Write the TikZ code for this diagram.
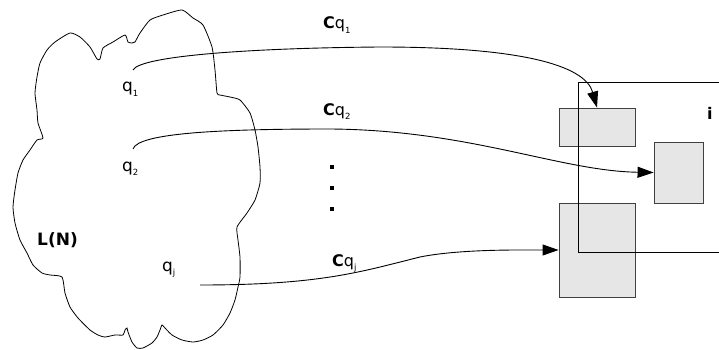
\documentclass[tikz,border=0pt]{standalone}
\usepackage{fontspec}
\setmainfont{DejaVu Sans}
\usepackage{tikz}
\usetikzlibrary{positioning,arrows.meta}
\definecolor{bfill}{HTML}{E6E6E6}
\definecolor{bedge}{HTML}{404040}
\newcommand{\qsub}[1]{q\raisebox{-4.5pt}{\fontsize{8.5}{9}\selectfont #1}}

\begin{document}
\begin{tikzpicture}[x=1pt, y=-1pt, font=\fontsize{17}{19}\selectfont,
  blk/.style={draw=bedge, fill=bfill, line width=0.9pt, inner sep=0pt},
  lbl/.style={anchor=base west, inner sep=0pt},
  arr/.style={-{Triangle[length=16pt,width=11pt]}, line width=0.9pt}]
\useasboundingbox (0,0) rectangle (719,350);
% the set L(N)
\draw[line width=0.8pt] plot[smooth cycle, tension=0.35] coordinates {
  (55,42) (70,33) (80,37) (90,47) (97,59) (100,59) (103,48) (113,42) (125,35)
  (128,42) (132,43) (135,42) (140,33) (150,20) (163,15) (182,10) (193,18)
  (203,25) (212,47) (215,70) (217,93) (220,95) (230,97) (240,100) (250,113)
  (255,130) (258,147) (260,167) (260,183) (255,200) (247,213) (237,227)
  (238,240) (240,257) (240,277) (238,287) (235,300) (230,313) (223,325)
  (213,335) (203,340) (193,342) (182,340) (172,335) (165,328) (162,325)
  (160,330) (157,337) (152,343) (143,348) (137,348) (132,342) (128,332)
  (127,328) (125,330) (123,335) (115,335) (105,337) (98,335) (90,330)
  (78,318) (70,307) (65,293) (62,277) (50,275) (42,273) (33,265) (27,253)
  (20,240) (15,223) (13,207) (15,190) (18,173) (23,160) (30,150) (37,140)
  (43,138) (38,123) (37,110) (35,93) (37,77) (40,63) (47,50)};
\node[lbl, font=\fontsize{17}{19}\selectfont\bfseries] (ln) at (37,245) {L(N)};
\node[lbl] (q1) at (122,92) {\qsub{1}};
\node[lbl] (q2) at (122,171) {\qsub{2}};
\node[lbl] (qj) at (162,271) {\qsub{j}};
\coordinate (s1) at (133,70);
\coordinate (s2) at (133,149);
\coordinate (s3) at (200,285);
% boxes
\node[blk, minimum width=76pt, minimum height=38pt] (boxA) at (597,127) {};
\node[blk, minimum width=49pt, minimum height=61pt] (boxB) at (678.5,172.5) {};
\node[blk, minimum width=76pt, minimum height=94pt] (boxC) at (597,250) {};
\draw[line width=0.9pt] (719,82) -- (578,82) -- (578,252) -- (719,252);
\node[lbl, font=\fontsize{16}{18}\selectfont\bfseries] (ii) at (707,120) {i};
% images of the q's
\node[lbl, font=\fontsize{16}{18}\selectfont] (c1) at (323,29) {\textbf{C}\qsub{1}};
\node[lbl, font=\fontsize{16}{18}\selectfont] (c2) at (323,115) {\textbf{C}\qsub{2}};
\node[lbl, font=\fontsize{16}{18}\selectfont] (cj) at (332,266) {\textbf{C}\qsub{j}};
\foreach \y/\n in {166.5/1,187.5/2,209/3}
  \node[fill=black, minimum size=4pt, inner sep=0pt] (dot\n) at (332,\y) {};
\draw[arr] (s1) .. controls (140,56) and (250,48) .. (380,47)
  .. controls (520,47) and (585,65) .. (boxA.north);
\draw[arr] (s2) .. controls (138,133) and (220,129) .. (330,129)
  .. controls (470,130) and (560,171) .. (boxB.west);
\draw[arr] (s3) .. controls (320,285) and (360,272) .. (420,257)
  .. controls (460,249) and (520,250) .. (boxC.west);
\end{tikzpicture}
\end{document}
